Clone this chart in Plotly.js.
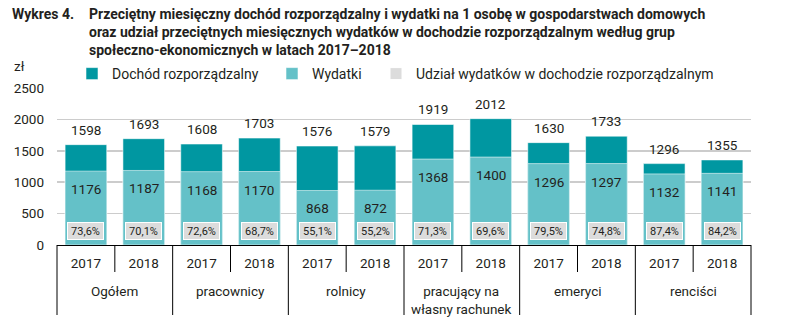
<!DOCTYPE html>
<html>
<head>
<meta charset="utf-8">
<script src="https://cdn.plot.ly/plotly-3.0.1.min.js"></script>
<style>html,body{margin:0;padding:0;background:#fff;}#chart{width:786px;height:327px;}</style>
</head>
<body>
<div id="chart"></div>
<script>
// ---- data ----
const groups = ['Ogółem', 'pracownicy', 'rolnicy', 'pracujący na<br>własny rachunek', 'emeryci', 'renciści'];
const years = ['2017', '2018'];
const income = [1598, 1693, 1608, 1703, 1576, 1579, 1919, 2012, 1630, 1733, 1296, 1355];
const expenses = [1176, 1187, 1168, 1170, 868, 872, 1368, 1400, 1296, 1297, 1132, 1141];
const shares = [73.6, 70.1, 72.6, 68.7, 55.1, 55.2, 71.3, 69.6, 79.5, 74.8, 87.4, 84.2];
const seriesNames = ['Dochód rozporządzalny', 'Wydatki', 'Udział wydatków w dochodzie rozporządzalnym'];
const yTicks = [0, 500, 1000, 1500, 2000, 2500];
const titleText = 'Przeciętny miesięczny dochód rozporządzalny i wydatki na 1 osobę w gospodarstwach domowych<br>oraz udział przeciętnych miesięcznych wydatków w dochodzie rozporządzalnym według grup<br>społeczno-ekonomicznych w latach 2017–2018';

// ---- layout constants (pixels) ----
const W = 786, H = 327;
const M = {l: 57, r: 35, t: 88, b: 82};
const plotW = W - M.l - M.r, plotH = H - M.t - M.b;
const px2paperX = px => (px - M.l) / plotW;
const px2paperY = py => (H - M.b - py) / plotH;

// ---- build ----
const xIds = [], xYearText = [];
groups.forEach((g, gi) => years.forEach(y => { xIds.push(gi + '-' + y); xYearText.push(y); }));
const nCat = xIds.length;

const colIncome = '#0097a1';
const colExp = '#64c1c8';
const colShare = '#dcdcdc';
const txt = '#231f20';

const traces = [
  {type: 'bar', name: seriesNames[0], x: xIds, y: income, legend: 'legend',
   marker: {color: colIncome, line: {color: 'rgba(255,255,255,0.55)', width: 1}}, hoverinfo: 'y'},
  {type: 'bar', name: seriesNames[1], x: xIds, y: expenses, legend: 'legend2',
   marker: {color: colExp, line: {color: 'rgba(255,255,255,0.55)', width: 1}}, hoverinfo: 'y'},
  {type: 'bar', name: seriesNames[2], x: xIds, y: shares.map(() => null), legend: 'legend3',
   marker: {color: colShare, line: {color: '#ffffff', width: 1}}, hoverinfo: 'skip'}
];

const fmt = v => v.toFixed(1).replace('.', ',') + '%';
const ann = [];
income.forEach((v, i) => ann.push({x: i, y: v, xref: 'x', yref: 'y', text: String(v), showarrow: false,
  yanchor: 'bottom', yshift: 5, font: {size: 13.5, color: txt}}));
expenses.forEach((v, i) => ann.push({x: i, y: v, xref: 'x', yref: 'y', text: String(v), showarrow: false,
  yanchor: 'top', yshift: -8, font: {size: 13.5, color: txt}}));
shares.forEach((v, i) => ann.push({x: i, y: 0, xref: 'x', yref: 'y', text: fmt(v), showarrow: false,
  yanchor: 'bottom', yshift: 5, bgcolor: colShare, bordercolor: '#ffffff', borderwidth: 1, borderpad: 1,
  width: 33, height: 14, font: {size: 11, color: txt}}));
// group labels
groups.forEach((g, gi) => ann.push({x: gi * years.length + (years.length - 1) / 2, y: px2paperY(281),
  xref: 'x', yref: 'paper', text: g, showarrow: false, yanchor: 'top', xanchor: 'center', align: 'center',
  font: {size: 13.5, color: txt}}));
// title, number, unit
ann.push({x: px2paperX(10), y: px2paperY(4), xref: 'paper', yref: 'paper', text: '<b>Wykres 4.</b>',
  showarrow: false, xanchor: 'left', yanchor: 'top', font: {size: 14, color: txt}});
ann.push({x: px2paperX(87), y: px2paperY(4), xref: 'paper', yref: 'paper', text: '<b>' + titleText + '</b>',
  showarrow: false, xanchor: 'left', yanchor: 'top', align: 'left', font: {size: 14, color: txt}});
ann.push({x: px2paperX(19), y: px2paperY(66), xref: 'paper', yref: 'paper', text: 'zł', showarrow: false,
  xanchor: 'center', yanchor: 'middle', font: {size: 13.5, color: txt}});

// x-axis separators: group boundaries long, year boundaries short
const shapes = [];
for (let i = 0; i <= nCat; i++) {
  const isGroup = i % years.length === 0;
  shapes.push({type: 'line', xref: 'paper', yref: 'paper', x0: i / nCat, x1: i / nCat,
    y0: 0, y1: px2paperY(isGroup ? 315 : 272), line: {color: '#000', width: 1}});
}

const legBase = {orientation: 'h', xref: 'paper', yref: 'paper', xanchor: 'left', yanchor: 'middle',
  font: {size: 14, color: txt}, itemclick: false, itemdoubleclick: false, bgcolor: 'rgba(0,0,0,0)'};
const legY = px2paperY(74);

const layout = {
  width: W, height: H,
  margin: M,
  paper_bgcolor: '#fff', plot_bgcolor: '#fff',
  font: {family: 'Roboto, sans-serif', size: 13, color: txt},
  barmode: 'overlay', bargap: 0.28,
  showlegend: true,
  legend: Object.assign({}, legBase, {x: px2paperX(109 - 37), y: legY}),
  legend2: Object.assign({}, legBase, {x: px2paperX(309 - 37), y: legY}),
  legend3: Object.assign({}, legBase, {x: px2paperX(413 - 37), y: legY}),
  xaxis: {type: 'category', tickvals: xIds, ticktext: xYearText, showline: true, linecolor: '#000',
    linewidth: 1, ticks: '', ticklabelstandoff: 6, tickfont: {size: 13.5, color: txt},
    showgrid: false, fixedrange: true},
  yaxis: {range: [0, 2500], tickvals: yTicks, showgrid: true, gridcolor: '#cccccc', gridwidth: 1.5,
    zeroline: false, showline: false, ticks: '', ticklabelstandoff: 12,
    tickfont: {size: 13.5, color: txt}, fixedrange: true},
  shapes: shapes,
  annotations: ann
};

Plotly.newPlot('chart', traces, layout, {displayModeBar: false, staticPlot: true});
</script>
</body>
</html>
